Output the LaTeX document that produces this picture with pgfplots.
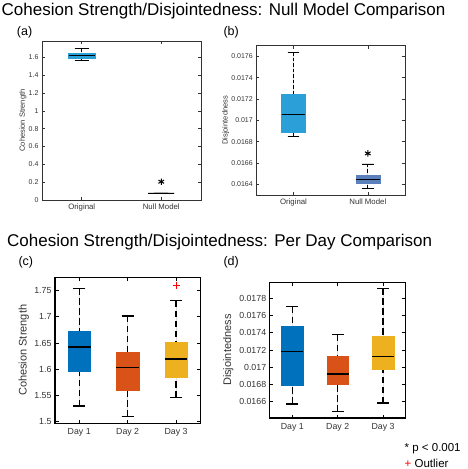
\documentclass[border=0pt]{standalone}
\usepackage{pgfplots}
\pgfplotsset{compat=1.18}
\usepgfplotslibrary{statistics}
\usepackage{fontspec}
\setmainfont{Liberation Sans}
\definecolor{origblue}{HTML}{2A9FD8}
\definecolor{nullblue}{HTML}{5C80BC}
\definecolor{dayA}{HTML}{0072BD}
\definecolor{dayB}{HTML}{D95319}
\definecolor{dayC}{HTML}{EDB120}
\definecolor{axgray}{HTML}{333333}
\pgfplotsset{
  /pgfplots/boxplot/draw/lower whisker/.code={%
    \draw[/pgfplots/boxplot/every whisker/.try,/pgfplots/boxplot/whiskerdash/.try]
      (boxplot cs:\pgfplotsboxplotvalue{lower whisker}) -- (boxplot cs:\pgfplotsboxplotvalue{lower quartile});
    \draw[/pgfplots/boxplot/every whisker/.try]
      (boxplot whisker cs:\pgfplotsboxplotvalue{lower whisker},0) -- (boxplot whisker cs:\pgfplotsboxplotvalue{lower whisker},1);
  },
  /pgfplots/boxplot/draw/upper whisker/.code={%
    \draw[/pgfplots/boxplot/every whisker/.try,/pgfplots/boxplot/whiskerdash/.try]
      (boxplot cs:\pgfplotsboxplotvalue{upper whisker}) -- (boxplot cs:\pgfplotsboxplotvalue{upper quartile});
    \draw[/pgfplots/boxplot/every whisker/.try]
      (boxplot whisker cs:\pgfplotsboxplotvalue{upper whisker},0) -- (boxplot whisker cs:\pgfplotsboxplotvalue{upper whisker},1);
  },
  boxplot/draw direction=y,
  smallax/.style={
    scale only axis, anchor=north west,
    axis line style={axgray, line width=0.8pt},
    tick style={axgray, line width=0.6pt},
    tick align=inside, major tick length=3pt,
    xmin=0.5, xmax=2.5, xtick={1,2}, xticklabels={Original,Null Model},
    tick label style={font=\fontsize{7}{8}\selectfont, text=axgray},
    xticklabel style={font=\fontsize{7.8}{9}\selectfont},
    /pgf/number format/assume math mode=true,
    yticklabel style={/pgf/number format/fixed, /pgf/number format/precision=4},
    scaled y ticks=false,
    boxplot/draw direction=y,
    boxplot/whiskerdash/.style={dash pattern=on 3.5pt off 2pt},
    boxplot/every whisker/.style={black, line width=0.8pt},
    boxplot/every median/.style={black, line width=0.9pt},
  },
  bigax/.style={
    scale only axis, anchor=north west,
    axis line style={black, line width=1.3pt},
    tick style={black, line width=0.9pt},
    tick align=inside, major tick length=3.5pt,
    xmin=0.5, xmax=3.5, xtick={1,2,3}, xticklabels={Day 1,Day 2,Day 3},
    tick label style={font=\fontsize{8.8}{10}\selectfont, text=axgray},
    xticklabel style={yshift=-2pt},
    /pgf/number format/assume math mode=true,
    yticklabel style={/pgf/number format/fixed, /pgf/number format/precision=4},
    scaled y ticks=false,
    boxplot/draw direction=y,
    boxplot/whiskerdash/.style={dash pattern=on 6.5pt off 3.5pt},
    boxplot/every whisker/.style={black, line width=1.4pt},
    boxplot/every median/.style={black, line width=1.4pt},
  },
}
\begin{document}
\begin{tikzpicture}[x=1pt,y=1pt]
\path[use as bounding box] (0,0) rectangle (468,-469);
\node[anchor=base west, inner sep=0pt, font=\fontsize{17}{20}\selectfont] at (1.5,-15.5) {Cohesion Strength/Disjointedness: Null Model Comparison};
\node[anchor=base west, inner sep=0pt, font=\fontsize{17}{20}\selectfont] at (7,-246.7) {Cohesion Strength/Disjointedness: Per Day Comparison};
\node[anchor=base west, inner sep=0pt, font=\fontsize{12.5}{14}\selectfont] at (16.7,-35.7) {(a)};
\node[anchor=base west, inner sep=0pt, font=\fontsize{12.5}{14}\selectfont] at (223.3,-35.7) {(b)};
\node[anchor=base west, inner sep=0pt, font=\fontsize{12.5}{14}\selectfont] at (18.3,-265) {(c)};
\node[anchor=base west, inner sep=0pt, font=\fontsize{12.5}{14}\selectfont] at (223.3,-265) {(d)};
\node[anchor=base west, inner sep=0pt, font=\fontsize{11.5}{13}\selectfont] at (404.5,-451) {* p < 0.001};
\node[anchor=base west, inner sep=0pt, font=\fontsize{11.5}{13}\selectfont] at (404.5,-467) {\textcolor{red}{+} Outlier};

% (a)
\begin{axis}[smallax, at={(42pt,-41pt)}, width=159pt, height=159pt,
  ymin=0, ymax=1.784, ytick={0,0.2,...,1.61},
  ylabel={Cohesion Strength},
  ylabel style={at={(axis description cs:-0.1195,0.5)}, anchor=center, font=\fontsize{7.5}{9}\selectfont, text=axgray}]
\addplot[boxplot prepared={draw position=1, lower whisker=1.57, lower quartile=1.595, median=1.618, upper quartile=1.645, upper whisker=1.70, box extend=0.33, whisker extend=0.18}, fill=origblue, draw=origblue] coordinates {};
\addplot[boxplot prepared={draw position=2, lower whisker=0.079, lower quartile=0.079, median=0.079, upper quartile=0.079, upper whisker=0.079, box extend=0.33, whisker extend=0.18}, fill=nullblue, draw=nullblue] coordinates {};
\addplot[only marks, mark=asterisk, mark size=3.2pt, line width=1pt, black] coordinates {(2,0.205)};
\end{axis}

% (b)  values in units of 1e-3
\begin{axis}[smallax, at={(256.3pt,-45.7pt)}, width=148.7pt, height=149.3pt,
  ymin=16.3, ymax=17.7, ytick={16.4,16.6,16.8,17.0,17.2,17.4,17.6},
  yticklabels={0.0164,0.0166,0.0168,0.017,0.0172,0.0174,0.0176},
  ylabel={Disjointedness},
  ylabel style={at={(axis description cs:-0.206,0.5)}, anchor=center, font=\fontsize{7.5}{9}\selectfont, text=axgray}]
\addplot[boxplot prepared={draw position=1, lower whisker=16.846, lower quartile=16.893, median=17.057, upper quartile=17.246, upper whisker=17.638, box extend=0.32, whisker extend=0.16}, fill=origblue, draw=origblue] coordinates {};
\addplot[boxplot prepared={draw position=2, lower whisker=16.358, lower quartile=16.409, median=16.446, upper quartile=16.484, upper whisker=16.591, box extend=0.32, whisker extend=0.16}, fill=nullblue, draw=nullblue] coordinates {};
\addplot[only marks, mark=asterisk, mark size=3.2pt, line width=1pt, black] coordinates {(2,16.69)};
\end{axis}

% (c)
\begin{axis}[bigax, at={(55pt,-277.3pt)}, width=145.3pt, height=146pt,
  ymin=1.496, ymax=1.776, ytick={1.5,1.55,1.6,1.65,1.7,1.75},
  ylabel={Cohesion Strength},
  ylabel style={at={(axis description cs:-0.215,0.5)}, anchor=center, font=\fontsize{11}{13}\selectfont, text=axgray}]
\addplot[boxplot prepared={draw position=1, lower whisker=1.529, lower quartile=1.596, median=1.642, upper quartile=1.672, upper whisker=1.755, box extend=0.47, whisker extend=0.25}, fill=dayA, draw=dayA] coordinates {};
\addplot[boxplot prepared={draw position=2, lower whisker=1.509, lower quartile=1.559, median=1.603, upper quartile=1.632, upper whisker=1.702, box extend=0.47, whisker extend=0.25}, fill=dayB, draw=dayB] coordinates {};
\addplot[boxplot prepared={draw position=3, lower whisker=1.545, lower quartile=1.584, median=1.619, upper quartile=1.651, upper whisker=1.731, box extend=0.47, whisker extend=0.25}, fill=dayC, draw=dayC] coordinates {};
\addplot[only marks, mark=+, mark size=3.5pt, line width=1.1pt, red] coordinates {(3,1.761)};
\end{axis}

% (d)  values in units of 1e-3
\begin{axis}[bigax, at={(269.7pt,-282.3pt)}, width=136pt, height=135.7pt,
  ymin=16.41, ymax=17.986, ytick={16.6,16.8,17.0,17.2,17.4,17.6,17.8},
  yticklabels={0.0166,0.0168,0.017,0.0172,0.0174,0.0176,0.0178},
  ylabel={Disjointedness},
  ylabel style={at={(axis description cs:-0.304,0.5)}, anchor=center, font=\fontsize{11}{13}\selectfont, text=axgray}]
\addplot[boxplot prepared={draw position=1, lower whisker=16.573, lower quartile=16.794, median=17.185, upper quartile=17.471, upper whisker=17.703, box extend=0.48, whisker extend=0.26}, fill=dayA, draw=dayA] coordinates {};
\addplot[boxplot prepared={draw position=2, lower whisker=16.484, lower quartile=16.797, median=16.921, upper quartile=17.130, upper whisker=17.378, box extend=0.48, whisker extend=0.26}, fill=dayB, draw=dayB] coordinates {};
\addplot[boxplot prepared={draw position=3, lower whisker=16.584, lower quartile=16.972, median=17.123, upper quartile=17.359, upper whisker=17.916, box extend=0.48, whisker extend=0.26}, fill=dayC, draw=dayC] coordinates {};
\end{axis}
\end{tikzpicture}
\end{document}
